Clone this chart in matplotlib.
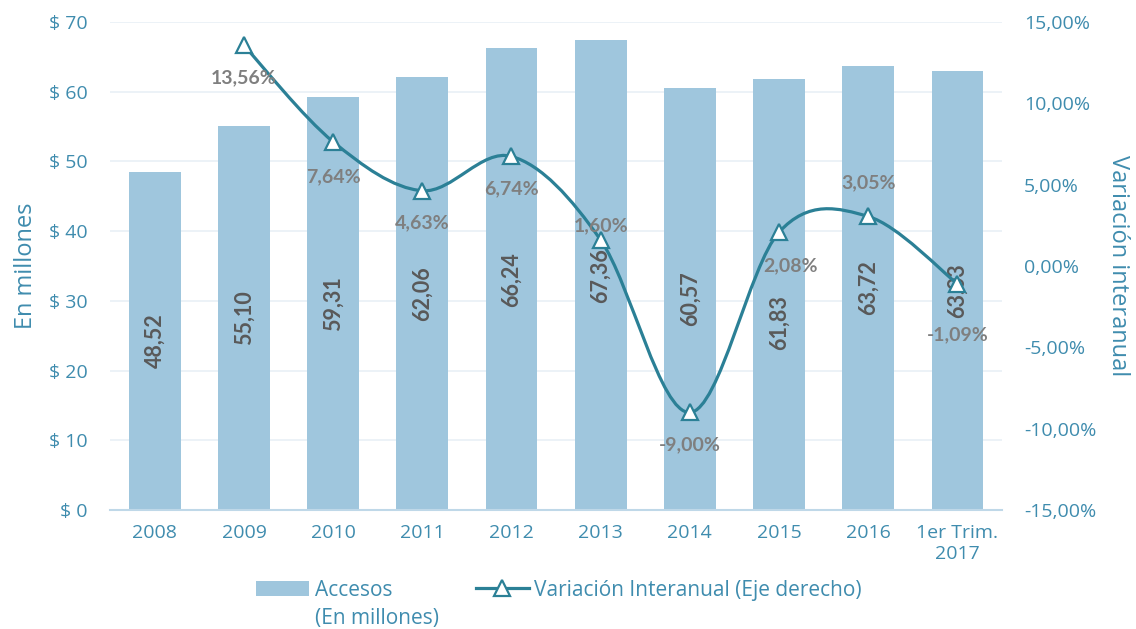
import numpy as np
import matplotlib.pyplot as plt
from matplotlib.path import Path
from matplotlib.patches import PathPatch, Patch
from matplotlib.lines import Line2D

plt.rcParams['font.family'] = ['Open Sans', 'DejaVu Sans']

# Data
categories = ['2008', '2009', '2010', '2011', '2012', '2013', '2014', '2015', '2016', '1er Trim.\n2017']
accesos = [48.52, 55.10, 59.31, 62.06, 66.24, 67.36, 60.57, 61.83, 63.72, 63.03]
variacion = [None, 13.56, 7.64, 4.63, 6.74, 1.60, -9.00, 2.08, 3.05, -1.09]

bar_color = '#9FC6DD'
line_color = '#2B8096'
tick_color = '#3F8CAE'
grid_color = '#E9F0F6'
bold_font = ['Lato', 'DejaVu Sans']

fig = plt.figure(figsize=(11.36, 6.29), dpi=100)
ax = fig.add_axes([0.097, 0.189, 0.785, 0.776])
ax2 = ax.twinx()

x = np.arange(len(categories))
ax.bar(x, accesos, width=0.58, color=bar_color, zorder=2)
ax.set_xlim(-0.5, len(categories) - 0.5)
ax.set_ylim(0, 70)
ax.set_yticks(range(0, 71, 10))
ax.set_yticklabels(['$ %d' % v for v in range(0, 71, 10)])
ax.set_xticks(x)
ax.set_xticklabels(categories)
ax.grid(axis='y', color=grid_color, linewidth=1.2, zorder=0)
ax.set_axisbelow(True)
for s in ['top', 'left', 'right']:
    ax.spines[s].set_visible(False)
    ax2.spines[s].set_visible(False)
ax.spines['bottom'].set_color('#BFD8E8')
ax.spines['bottom'].set_linewidth(1.5)
ax2.spines['bottom'].set_visible(False)
ax.tick_params(axis='x', length=0, labelsize=14, labelcolor=tick_color, pad=10)
ax.tick_params(axis='y', length=0, labelsize=14, labelcolor=tick_color, pad=16)
ax.set_ylabel('En millones', fontsize=17, color=tick_color, labelpad=8)

# bar value labels, centred in the bar (vertical shift in points per bar)
bar_label_shift = [0, 0, 0, 0, 0, 0, 0, -20, 0, 0]
for xi, v, sh in zip(x, accesos, bar_label_shift):
    ax.annotate(('%.2f' % v).replace('.', ','), (xi, v * 0.5), xytext=(0, sh),
                textcoords='offset points', rotation=90, ha='center', va='center',
                fontsize=15.5, fontweight='bold', color='#595959', family=bold_font, zorder=3)

# right axis
ax2.set_ylim(-15, 15)
ax2.set_yticks(range(-15, 16, 5))
ax2.set_yticklabels([('%.2f%%' % v).replace('.', ',') for v in range(-15, 16, 5)])
ax2.tick_params(axis='y', length=0, labelsize=14, labelcolor=tick_color, pad=16)
ax2.set_ylabel('Variación interanual', fontsize=17, color=tick_color, rotation=270, labelpad=24)

# smoothed line (Catmull-Rom as cubic Bezier)
px = [xi for xi, v in zip(x, variacion) if v is not None]
py = [v for v in variacion if v is not None]
pts = np.column_stack([px, py]).astype(float)
verts = [pts[0]]
codes = [Path.MOVETO]
n = len(pts)
for i in range(n - 1):
    p0 = pts[i - 1] if i > 0 else pts[i]
    p1, p2 = pts[i], pts[i + 1]
    p3 = pts[i + 2] if i + 2 < n else pts[i + 1]
    c1 = p1 + (p2 - p0) / 6.0
    c2 = p2 - (p3 - p1) / 6.0
    verts += [c1, c2, p2]
    codes += [Path.CURVE4] * 3
ax2.add_patch(PathPatch(Path(verts, codes), facecolor='none', edgecolor=line_color,
                        linewidth=2.3, zorder=4))
ax2.plot(px, py, linestyle='none', marker='^', markersize=11, markerfacecolor='white',
         markeredgecolor=line_color, markeredgewidth=1.6, zorder=5)

# percentage labels (offsets in points)
offsets = [None, (0, -23), (0, -25), (0, -23), (0, -23), (0, 10), (0, -23), (8, -24), (0, 24), (0, -37)]
for xi, v, off in zip(x, variacion, offsets):
    if v is None:
        continue
    ax2.annotate(('%.2f%%' % v).replace('.', ','), (xi, v), xytext=off, textcoords='offset points',
                 ha='center', va='center', fontsize=14, fontweight='bold', color='#7F7F7F',
                 family=bold_font, zorder=6)

handles = [Patch(facecolor=bar_color, edgecolor='none'),
           Line2D([], [], color=line_color, linewidth=2.3, marker='^', markersize=11,
                  markerfacecolor='white', markeredgecolor=line_color, markeredgewidth=1.6)]
leg = fig.legend(handles, ['Accesos', 'Variación Interanual (Eje derecho)'],
                 loc='center', bbox_to_anchor=(0.492, 0.062), ncol=2, frameon=False,
                 fontsize=15, handlelength=2.55, columnspacing=4.0, handletextpad=0.25)
for t in leg.get_texts():
    t.set_color(tick_color)

# second line of the first legend label, under "Accesos"
fig.canvas.draw()
bb = leg.get_texts()[0].get_window_extent()
x0, y0 = fig.transFigure.inverted().transform((bb.x0, bb.y0))
fig.text(x0, y0 - 0.012, '(En millones)', ha='left', va='top', fontsize=15, color=tick_color)

fig.savefig('out.png', dpi=100)
